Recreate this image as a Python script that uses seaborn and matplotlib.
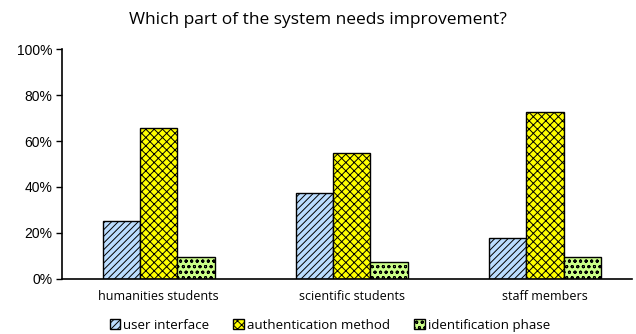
import matplotlib
matplotlib.use("Agg")
import matplotlib.pyplot as plt
import seaborn as sns
import pandas as pd
from matplotlib.ticker import PercentFormatter

groups = ["humanities students", "scientific students", "staff members"]
series = ["user interface", "authentication method", "identification phase"]
user_interface = [25.0, 37.5, 17.6]
authentication_method = [65.6, 55.0, 72.6]
identification_phase = [9.4, 7.4, 9.4]

colors = ["#BBDDFF", "#FFFF00", "#CCFF88"]
hatches = ["/////", "xxxx", "ooo"]

df = pd.DataFrame({
    "group": groups * 3,
    "part": [s for s in series for _ in groups],
    "value": user_interface + authentication_method + identification_phase,
})

sns.set_theme(style="white")
plt.rcParams["font.family"] = ["Liberation Sans", "DejaVu Sans"]
plt.rcParams["hatch.linewidth"] = 0.7
plt.rcParams["hatch.color"] = "black"
plt.rcParams["text.color"] = "black"
plt.rcParams["xtick.color"] = "black"
plt.rcParams["ytick.color"] = "black"

fig = plt.figure(figsize=(6.36, 3.34), dpi=100)
ax = fig.add_axes([0.0975, 0.166, 0.896, 0.686])

sns.barplot(data=df, x="group", y="value", hue="part", order=groups,
            hue_order=series, palette=colors, width=0.58, saturation=1,
            edgecolor="black", linewidth=1.0, ax=ax, legend=True)

for container, h in zip(ax.containers, hatches):
    for bar in container:
        bar.set_hatch(h)

ax.set_ylim(0, 100)
ax.set_xlim(-0.5, 2.45)
ax.set_yticks([0, 20, 40, 60, 80, 100])
ax.yaxis.set_major_formatter(PercentFormatter(decimals=0))
ax.tick_params(axis="y", direction="out", length=4, width=1, color="black",
               labelsize=10, pad=3, left=True, labelcolor="black")
ax.tick_params(axis="x", length=0, labelsize=9, pad=8, labelcolor="black")
ax.set_xlabel("")
ax.set_ylabel("")
for side in ["top", "right"]:
    ax.spines[side].set_visible(False)
for side in ["left", "bottom"]:
    ax.spines[side].set_color("black")
    ax.spines[side].set_linewidth(1.2)
for lbl in ax.get_xticklabels():
    lbl.set_family(["Open Sans", "DejaVu Sans"])

handles, labels = ax.get_legend_handles_labels()
for hd, h in zip(handles, hatches):
    hd.set_hatch(h)
ax.legend(handles, labels, loc="center", bbox_to_anchor=(0.47, -0.205),
          ncol=3, frameon=False, handlelength=0.8, handleheight=0.8,
          handletextpad=0.25, columnspacing=1.8, borderaxespad=0,
          prop={"family": ["Open Sans", "DejaVu Sans"], "size": 9.5},
          labelcolor="black")

fig.suptitle("Which part of the system needs improvement?", y=0.965,
             fontsize=12.5, color="black",
             fontfamily=["Open Sans", "DejaVu Sans"])

fig.savefig("out.png", dpi=100)
